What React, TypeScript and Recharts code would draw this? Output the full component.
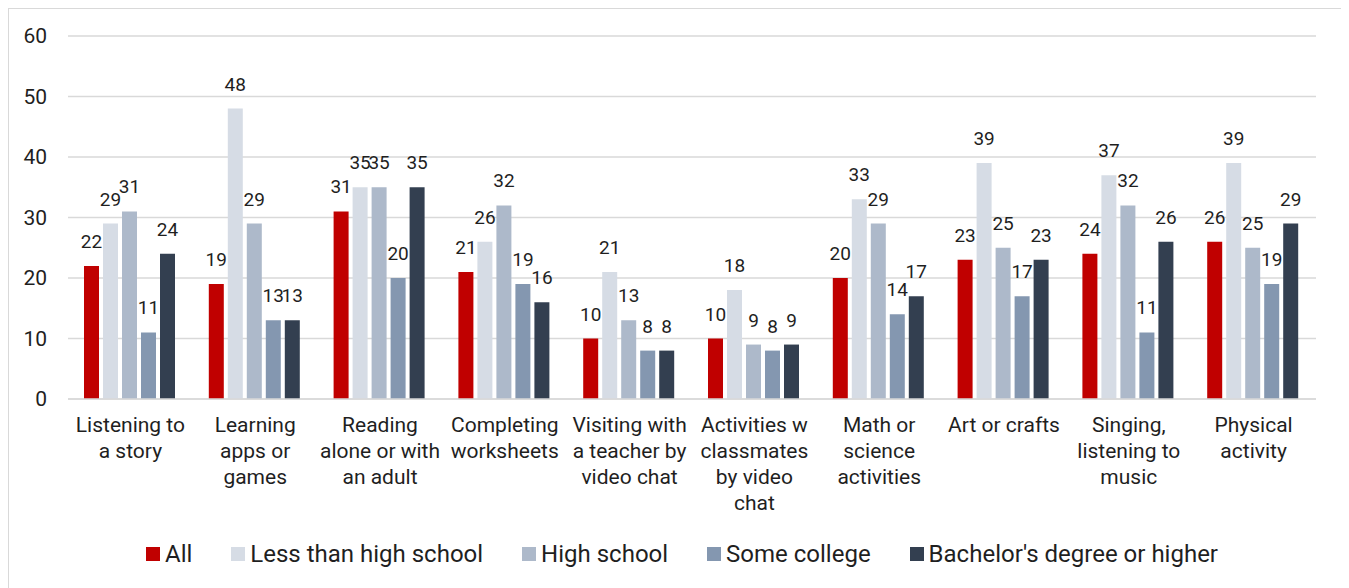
import { BarChart, Bar, XAxis, YAxis, CartesianGrid, Legend, LabelList } from 'recharts';

const categories = [
  'Listening to\na story',
  'Learning\napps or\ngames',
  'Reading\nalone or with\nan adult',
  'Completing\nworksheets',
  'Visiting with\na teacher by\nvideo chat',
  'Activities w\nclassmates\nby video\nchat',
  'Math or\nscience\nactivities',
  'Art or crafts',
  'Singing,\nlistening to\nmusic',
  'Physical\nactivity',
];

const allValues = [22, 19, 31, 21, 10, 10, 20, 23, 24, 26];
const lessThanHighSchool = [29, 48, 35, 26, 21, 18, 33, 39, 37, 39];
const highSchool = [31, 29, 35, 32, 13, 9, 29, 25, 32, 25];
const someCollege = [11, 13, 20, 19, 8, 8, 14, 17, 11, 19];
const bachelors = [24, 13, 35, 16, 8, 9, 17, 23, 26, 29];

const yTicks = [0, 10, 20, 30, 40, 50, 60];

const seriesList = [
  { key: 'all', name: 'All', color: '#C00000' },
  { key: 'less', name: 'Less than high school', color: '#D6DCE5' },
  { key: 'hs', name: 'High school', color: '#ADB9CA' },
  { key: 'some', name: 'Some college', color: '#8497B0' },
  { key: 'bach', name: "Bachelor's degree or higher", color: '#333F50' },
];

const data = categories.map((label, i) => ({
  label,
  all: allValues[i],
  less: lessThanHighSchool[i],
  hs: highSchool[i],
  some: someCollege[i],
  bach: bachelors[i],
}));

const TEXT = '#1f1f1f';

const CategoryTick = ({ x, y, payload }: any) => {
  const lines = String(payload.value).split('\n');
  return (
    <text x={x} y={y} textAnchor="middle" fill={TEXT} fontSize={21}>
      {lines.map((line, i) => (
        <tspan key={i} x={x} y={y + 33 + i * 26}>
          {line}
        </tspan>
      ))}
    </text>
  );
};

const LegendContent = () => (
  <div
    style={{
      height: 55,
      display: 'flex',
      justifyContent: 'center',
      alignItems: 'center',
      paddingTop: 4,
      boxSizing: 'border-box',
      fontSize: 24,
      color: TEXT,
    }}
  >
    {seriesList.map((s, i) => (
      <div
        key={s.key}
        style={{ display: 'flex', alignItems: 'center', marginRight: i === seriesList.length - 1 ? 0 : 39 }}
      >
        <span style={{ width: 14, height: 14, background: s.color, marginRight: 5, display: 'inline-block' }} />
        <span>{s.name}</span>
      </div>
    ))}
  </div>
);

export default function App() {
  return (
    <div
      style={{
        width: 1336,
        height: 590,
        border: '1px solid #D9D9D9',
        fontFamily: 'Roboto, sans-serif',
        background: '#fff',
      }}
    >
      <BarChart
        width={1336}
        height={579}
        data={data}
        margin={{ top: 27, right: 29, left: 0, bottom: 9 }}
        barCategoryGap={16}
        barGap={4}
      >
        <CartesianGrid vertical={false} stroke="#D9D9D9" strokeWidth={1.5} />
        <XAxis
          dataKey="label"
          interval={0}
          axisLine={{ stroke: '#D9D9D9', strokeWidth: 1.5 }}
          tickLine={false}
          tickSize={0}
          tickMargin={0}
          height={125}
          tick={<CategoryTick />}
        />
        <YAxis
          domain={[0, 60]}
          ticks={yTicks}
          width={59}
          axisLine={false}
          tickLine={false}
          tickSize={0}
          tickMargin={21}
          tick={{ fill: TEXT, fontSize: 21 }}
        />
        <Legend
          verticalAlign="bottom"
          content={<LegendContent />}
          wrapperStyle={{ left: 0, width: 1346 }}
        />
        {seriesList.map(s => (
          <Bar key={s.key} dataKey={s.key} name={s.name} fill={s.color} isAnimationActive={false}>
            <LabelList dataKey={s.key} position="top" offset={18} fill={TEXT} fontSize={19} />
          </Bar>
        ))}
      </BarChart>
    </div>
  );
}
